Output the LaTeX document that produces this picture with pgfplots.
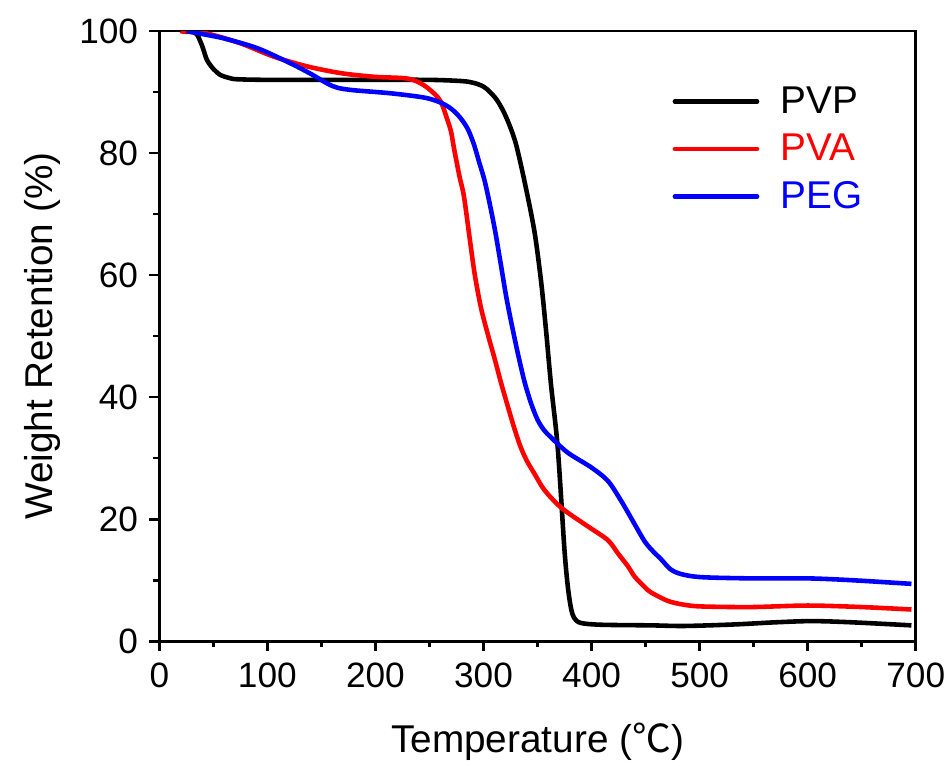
\documentclass[border=0pt]{standalone}
\usepackage{fontspec}
\setmainfont{Liberation Sans}
\newfontfamily\cjk{Noto Sans CJK SC}
\usepackage{pgfplots}
\pgfplotsset{compat=1.18}

\begin{document}
\begin{tikzpicture}
\begin{axis}[
    width=151mm, height=121.8mm,
    scale only axis,
    xmin=0, xmax=700,
    ymin=0, ymax=100,
    xtick={0,100,...,700},
    ytick={0,20,...,100},
    minor x tick num=1,
    minor y tick num=1,
    tick align=outside,
    tick pos=left,
    major tick length=2mm,
    minor tick length=1.2mm,
    axis line style={line width=1.6pt},
    every tick/.style={line width=1.5pt, black},
    /pgf/number format/assume math mode=true,
    tick label style={font=\fontsize{20}{24}\selectfont},
    xticklabel style={yshift=-1mm},
    yticklabel style={xshift=-1mm},
    xlabel={Temperature ({\cjk ℃})},
    ylabel={Weight Retention (\%)},
    label style={font=\fontsize{22}{26}\selectfont},
    xlabel style={at={(axis description cs:0.5,-0.164)}, anchor=center},
    ylabel style={at={(axis description cs:-0.155,0.5)}, anchor=center},
    legend cell align=left,
    legend style={draw=none, fill=none, at={(axis description cs:0.935,0.915)},
        anchor=north east, font=\fontsize{22}{26}\selectfont, row sep=2.2mm,
        inner sep=0pt},
    legend image code/.code={\draw[#1, line cap=round] (0mm,0mm) -- (16.4mm,0mm);
        \path (20mm,0mm);},
    every axis plot/.append style={line width=2.6pt, line join=round, smooth, tension=0.5},
]
\addplot[black] coordinates {
(22,100) (30,99.9) (35,99.4) (40,97.4) (44,95.3) (50,93.8) (56.6,92.8) (65,92.3)
(72,92.1) (100,92.0) (150,92.0) (200,92.0) (250,92.0) (280,91.8) (291,91.5)
(300,90.9) (306,90.0) (312,88.8) (318,87.0) (324,84.6) (330,81.5)
(337.8,75.5) (347,67.3) (353.2,59.1) (357.9,50.9) (362.5,42) (368.7,31.7)
(374.8,15.3) (378,9) (381,5.4) (384,3.8) (390,3.0) (409,2.7) (455,2.6) (486,2.5)
(532,2.75) (570,3.1) (604,3.3) (641,3.1) (696,2.6)
};
\addlegendentry{PVP}
\addplot[red] coordinates {
(20,100) (23,99.9) (44,99.6) (75,98) (106,95.8) (137,94.2) (168,93.1) (199,92.5)
(230,92.2) (245,91.1) (257.5,89.2) (262,87.8) (266.7,85.4) (270,83.5) (273,80.5)
(278,76) (282,72.8) (288.3,64.6) (292,60) (297.6,54.7) (304,50.3) (310,46.5)
(316,42.5) (322,38.8) (328,35.2) (334,32) (340,29.6) (347,27.5) (356.3,24.8)
(371.8,21.9) (393.4,19.2) (412,17.0) (418,16.0) (424.4,14.4) (433.6,12.3)
(439.8,10.6) (449,8.9) (455,8.0) (470.7,6.6) (485,6.0) (501.6,5.7) (548,5.6)
(600,5.85) (650,5.6) (696,5.2)
};
\addlegendentry{\textcolor{red}{PVA}}
\addplot[blue] coordinates {
(25,100) (28,99.9) (40,99.5) (59.6,98.8) (90.6,97.2) (121.5,94.7) (140,93)
(155.5,91.4) (165,90.7) (180,90.3) (214,89.8) (245,89.1) (260,88.3) (269.8,87.3)
(278,85.9) (285.3,84.0) (291,81.5) (296,78.5) (301,75.5) (306,71.5) (311,67)
(316,61.8) (321,56.5) (326,52) (332,47) (338,42.5) (344,39) (350,36.3) (356,34.6)
(362.5,33.4) (378,30.9) (399.6,28.5) (415,26.3) (427.4,23) (439.8,19.2)
(449,16.4) (456,14.9) (464.5,13.4) (473,11.8) (483,11.0) (501.6,10.5)
(548,10.3) (600,10.3) (641,10.0) (696,9.4)
};
\addlegendentry{\textcolor{blue}{PEG}}
\end{axis}
\path ([yshift=6.2mm]current axis.north west);
\path ([xshift=-31.8mm]current axis.south west);
\end{tikzpicture}
\end{document}
